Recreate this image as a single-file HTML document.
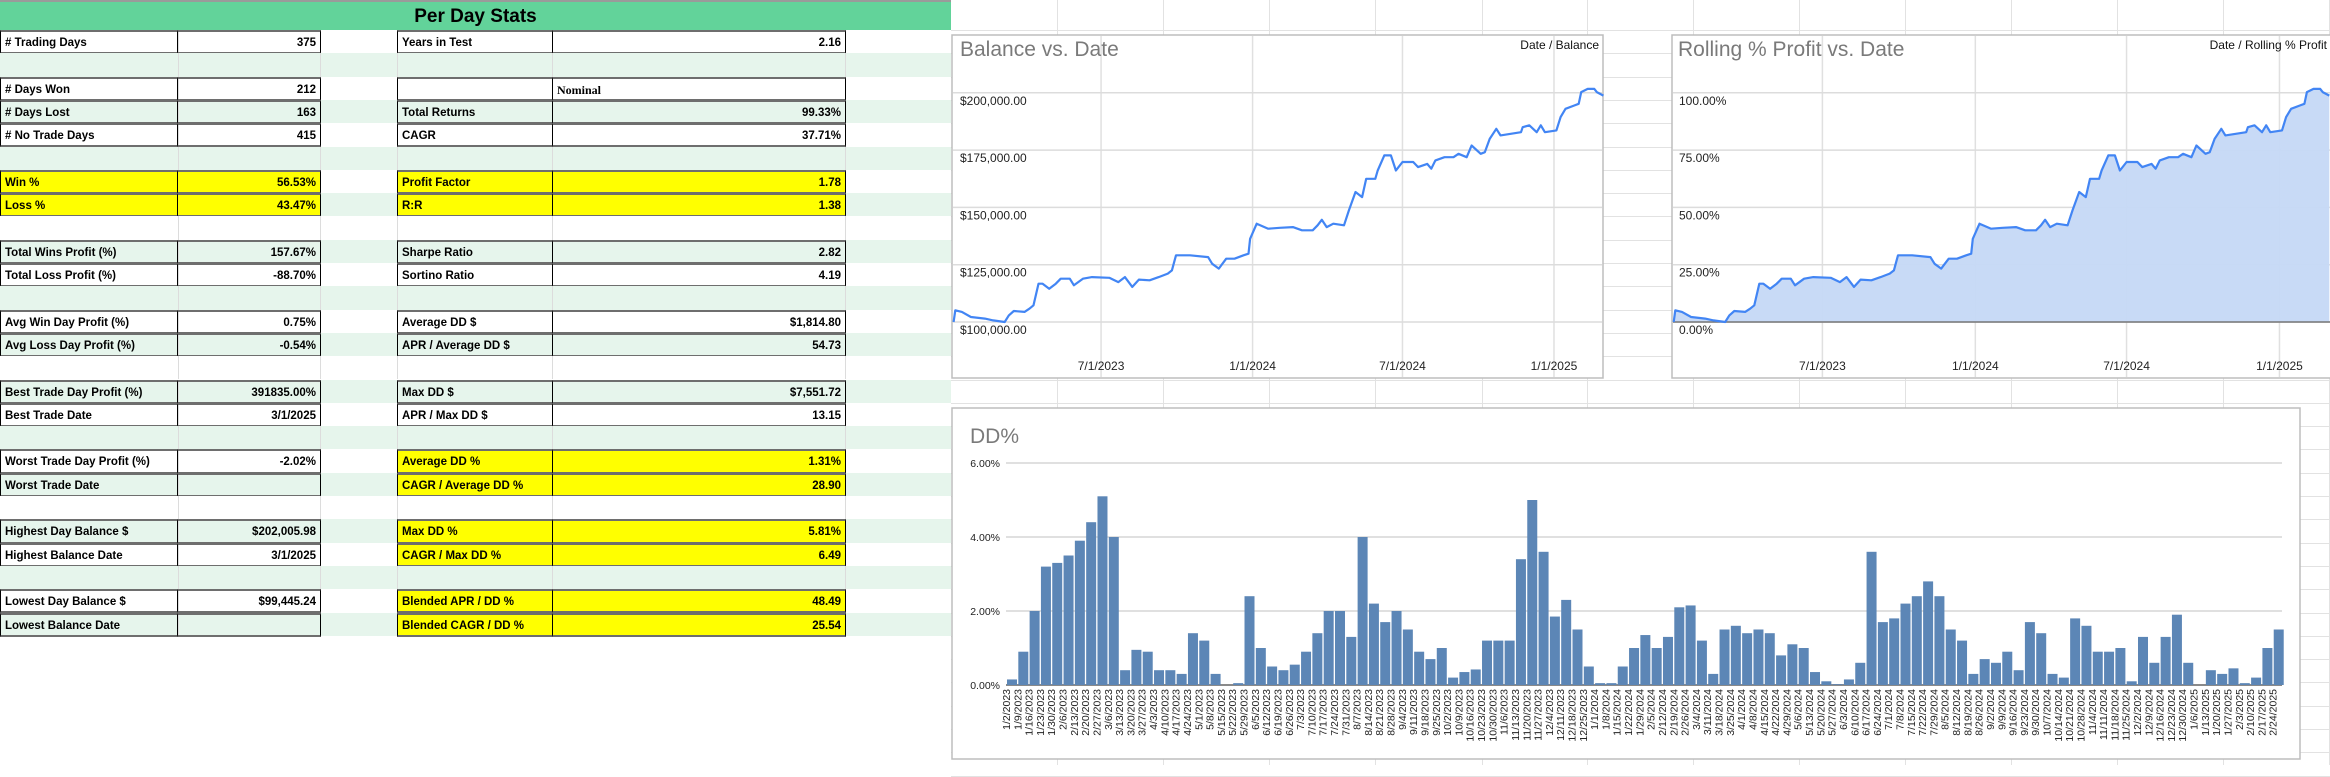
<!DOCTYPE html>
<html><head><meta charset="utf-8">
<style>
html,body{margin:0;padding:0;background:#fff;}
body{width:2330px;height:765px;position:relative;overflow:hidden;font-family:"Liberation Sans",Arial,sans-serif;}
.c{position:absolute;box-sizing:border-box;font-size:11.5px;font-weight:bold;line-height:22px;white-space:nowrap;overflow:hidden;color:#000;}
.r{text-align:right;padding-right:4px;}
.l{padding-left:4px;}
svg text{font-family:"Liberation Sans",Arial,sans-serif;}
</style></head>
<body>
<div id="sheet"></div>
<svg id="charts" width="2330" height="765" style="position:absolute;left:0;top:0"></svg>
<script>
// ---------- table data ----------
const rowsA=['# Trading Days','','# Days Won','# Days Lost','# No Trade Days','','Win %','Loss %','','Total Wins Profit (%)','Total Loss Profit (%)','','Avg Win Day Profit (%)','Avg Loss Day Profit (%)','','Best Trade Day Profit (%)','Best Trade Date','','Worst Trade Day Profit (%)','Worst Trade Date','','Highest Day Balance $','Highest Balance Date','','Lowest Day Balance $','Lowest Balance Date'];
const rowsB=['375','','212','163','415','','56.53%','43.47%','','157.67%','-88.70%','','0.75%','-0.54%','','391835.00%','3/1/2025','','-2.02%','','','$202,005.98','3/1/2025','','$99,445.24',''];
const rowsD=['Years in Test','','','Total Returns','CAGR','','Profit Factor','R:R','','Sharpe Ratio','Sortino Ratio','','Average DD $','APR / Average DD $','','Max DD $','APR / Max DD $','','Average DD %','CAGR / Average DD %','','Max DD %','CAGR / Max DD %','','Blended APR / DD %','Blended CAGR / DD %'];
const rowsE=['2.16','','Nominal','99.33%','37.71%','','1.78','1.38','','2.82','4.19','','$1,814.80','54.73','','$7,551.72','13.15','','1.31%','28.90','','5.81%','6.49','','48.49','25.54'];
const yellowAB=[6,7];
const yellowDE=[6,7,18,19,21,22,24,25];
const blankRows=[1,5,8,11,14,17,20,23];

const sheet=document.getElementById('sheet');
const RH=23.3, TOP=30;
const colX=[0,178,320,397,552,845,951];
function mk(x,y,w,h,bg){const d=document.createElement('div');d.className='c';d.style.left=x+'px';d.style.top=y+'px';d.style.width=w+'px';d.style.height=h+'px';if(bg)d.style.background=bg;sheet.appendChild(d);return d;}
// background grid right side
for(let i=0;i<33;i++){
  const g=document.createElement('div');
  
  
  g.style.cssText='position:absolute;left:951px;width:1379px;height:1px;background:#e2e2e2;top:'+(TOP+i*RH)+'px';
  sheet.appendChild(g);
}
const vcols=[1057,1163,1269,1375,1482,1587,1693,1799,1905,2011,2117,2223,2329];
for(const vx of vcols){
  const g=document.createElement('div');
  
  
  g.style.cssText='position:absolute;top:0;height:765px;width:1px;background:#e2e2e2;left:'+vx+'px';
  sheet.appendChild(g);
}
// header
const hd=mk(0,0,951,30,'#62d39a');


hd.style.cssText+=';font-size:19px;text-align:center;line-height:30px;padding-left:0;border-top:2px solid #9a9a9a;';
hd.textContent='Per Day Stats';
for(let i=0;i<26;i++){
  const y=TOP+i*RH;
  const bg=(i%2)?'#e6f5ec':'#ffffff';
  const band=mk(0,y,951,RH+0.5,bg);
  
  
  for(const cx of colX.slice(1,6)){
    const v=document.createElement('div');
    
    
    v.style.cssText='position:absolute;width:1px;background:#dcdcdc;height:'+RH+'px;top:'+y+'px;left:'+cx+'px';
    sheet.appendChild(v);
  }
  if(blankRows.includes(i)) continue;
  const yab=yellowAB.includes(i), yde=yellowDE.includes(i);
  const border='border:1px solid #000;border-top:2px solid #6e6e6e;border-bottom:2px solid #6e6e6e;';
  const a=mk(0,y,178,RH+1,yab?'#ffff00':null);
  
  
  a.style.cssText+=border;a.className+=' l';a.textContent=rowsA[i];
  const b=mk(177,y,144,RH+1,yab?'#ffff00':null);
  
  
  b.style.cssText+=border;b.className+=' r';b.textContent=rowsB[i];
  const d=mk(397,y,156,RH+1,yde?'#ffff00':null);
  
  
  d.style.cssText+=border;d.className+=' l';d.textContent=rowsD[i];
  const e=mk(552,y,294,RH+1,yde?'#ffff00':null);
  
  
  e.style.cssText+=border;
  if(i===2){e.className+=' l';e.style.fontFamily='"Liberation Serif",serif';e.style.fontSize='12px';}
  else e.className+=' r';
  e.textContent=rowsE[i];
}
</script>
<script>
// ---------- chart data ----------
const balDays=[2,4,12,23,40,50,64,69,75,88,94,99,105,110,118,126,132,143,148,159,170,191,202,210,219,227,240,251,262,267,272,289,311,316,324,333,343,354,360,362,370,384,398,414,425,438,444,449,455,463,476,482,490,498,503,514,517,525,533,539,547,560,566,577,582,587,598,609,615,625,631,642,647,653,661,666,691,693,701,710,715,720,734,739,745,756,761,764,772,780,783,791];
const balValues=[100.0,105.1,104.4,102.2,101.5,100.7,100.0,102.9,104.8,104.4,105.8,107.3,116.7,116.7,114.5,116.7,118.9,118.9,116.0,118.9,119.6,119.3,117.4,119.6,115.3,118.5,118.2,119.6,121.1,122.5,129.1,129.1,128.3,125.4,123.3,127.6,127.6,129.1,129.8,136.3,142.9,140.7,141.1,141.4,140.0,140.0,142.2,144.6,141.4,142.9,142.2,148.7,156.7,154.5,162.5,162.5,166.1,172.7,172.7,166.1,169.8,169.8,167.6,169.0,166.9,170.5,171.9,171.9,173.4,171.9,177.0,173.4,174.1,179.9,184.3,181.4,182.8,185.0,185.8,182.8,185.8,182.8,183.6,189.4,193.0,194.5,195.2,200.3,201.7,201.7,200.3,198.8];
const balTicks=[100,125,150,175,200];
const balTickLabels=['$100,000.00','$125,000.00','$150,000.00','$175,000.00','$200,000.00'];
const pctTicks=[0,25,50,75,100];
const pctTickLabels=['0.00%','25.00%','50.00%','75.00%','100.00%'];
const dateTickDays=[181,365,547,731];
const dateTickLabels=['7/1/2023','1/1/2024','7/1/2024','1/1/2025'];
const ddValues=[0.15,0.9,2.0,3.2,3.3,3.5,3.9,4.4,5.1,4.0,0.4,0.95,0.9,0.4,0.4,0.3,1.4,1.2,0.3,0,0.05,2.4,1.0,0.5,0.4,0.55,0.9,1.4,2.0,2.0,1.3,4.0,2.2,1.7,2.0,1.5,0.9,0.7,1.0,0.2,0.35,0.42,1.2,1.2,1.2,3.4,5.0,3.6,1.85,2.3,1.5,0.5,0.05,0.05,0.5,1.0,1.35,1.0,1.3,2.1,2.15,1.2,0.3,1.5,1.6,1.4,1.5,1.4,0.8,1.1,1.0,0.35,0.1,0.02,0.15,0.6,3.6,1.7,1.8,2.2,2.4,2.8,2.4,1.5,1.2,0.3,0.7,0.6,0.9,0.4,1.7,1.4,0.3,0.2,1.8,1.6,0.9,0.9,1.0,0.1,1.3,0.6,1.3,1.9,0.6,0,0.4,0.3,0.45,0.05,0.2,1.0,1.5];
const ddTicks=[0,2,4,6];
const ddTickLabels=['0.00%','2.00%','4.00%','6.00%'];
const ddStart='2023-01-02';

const NS='http://www.w3.org/2000/svg';
const svg=document.getElementById('charts');
function el(tag,attrs,parent){const e=document.createElementNS(NS,tag);for(const k in attrs)e.setAttribute(k,attrs[k]);(parent||svg).appendChild(e);return e;}

// ---- Balance chart ----
const balG=el('g',{});


el('rect',{x:952,y:35,width:651,height:343,fill:'#fff',stroke:'#bdbdbd','stroke-width':1.5},balG);
const bx=d=>952+d*0.8235, by=v=>322-(v-100)/25*57.3;
for(let i=0;i<dateTickDays.length;i++){
  const gl=el('line',{x1:bx(dateTickDays[i]),x2:bx(dateTickDays[i]),y1:36,y2:377,stroke:'#e0e0e0','stroke-width':1.5},balG);
  
  
  const t=el('text',{x:bx(dateTickDays[i]),y:370,'text-anchor':'middle','font-size':12,fill:'#222'},balG);
  
  
  t.textContent=dateTickLabels[i];
}
for(let i=0;i<balTicks.length;i++){
  const gl=el('line',{x1:953,x2:1602,y1:by(balTicks[i]),y2:by(balTicks[i]),stroke:'#dcdcdc','stroke-width':1.5},balG);
  
  
  const t=el('text',{x:960,y:by(balTicks[i])+12,'font-size':12,fill:'#222'},balG);
  
  
  t.textContent=balTickLabels[i];
}
const bt=el('text',{x:960,y:56,'font-size':21,fill:'#7a7a7a'},balG);


bt.textContent='Balance vs. Date';
const bl=el('text',{x:1599,y:49,'font-size':12,'text-anchor':'end',fill:'#111'},balG);


bl.textContent='Date / Balance';
let bpts=balDays.map((d,i)=>bx(d).toFixed(1)+','+by(balValues[i]).toFixed(1)).join(' ');
const bline=el('polyline',{points:bpts,fill:'none',stroke:'#4285f4','stroke-width':2.2,'stroke-linejoin':'round'},balG);



// ---- Rolling % chart ----
const rG=el('g',{});


el('rect',{x:1672,y:35,width:700,height:343,fill:'#fff',stroke:'#bdbdbd','stroke-width':1.5},rG);
const rx=d=>1672+d*0.831, ry=p=>322-p/25*57.3;
const pctValues=balValues.map(v=>v-100);
for(let i=0;i<dateTickDays.length;i++){
  const gl=el('line',{x1:rx(dateTickDays[i]),x2:rx(dateTickDays[i]),y1:36,y2:377,stroke:'#e0e0e0','stroke-width':1.5},rG);
  
  
  const t=el('text',{x:rx(dateTickDays[i]),y:370,'text-anchor':'middle','font-size':12,fill:'#222'},rG);
  
  
  t.textContent=dateTickLabels[i];
}
for(let i=0;i<pctTicks.length;i++){
  const gl=el('line',{x1:1673,x2:2330,y1:ry(pctTicks[i]),y2:ry(pctTicks[i]),stroke:'#dcdcdc','stroke-width':1.5},rG);
  
  
}
let rp=balDays.map((d,i)=>rx(d).toFixed(1)+','+ry(pctValues[i]).toFixed(1));
const area=el('polygon',{points:rx(balDays[0])+','+ry(0)+' '+rp.join(' ')+' '+rx(balDays[balDays.length-1])+','+ry(0),fill:'#c5d8f6','fill-opacity':0.95},rG);


el('line',{x1:1673,x2:2330,y1:ry(0),y2:ry(0),stroke:'#777','stroke-width':1.5},rG);
for(let i=0;i<pctTicks.length;i++){
  const t=el('text',{x:1679,y:ry(pctTicks[i])+12,'font-size':12,fill:'#222'},rG);
  
  
  t.textContent=pctTickLabels[i];
}
const rline=el('polyline',{points:rp.join(' '),fill:'none',stroke:'#4285f4','stroke-width':2.2,'stroke-linejoin':'round'},rG);


const rt=el('text',{x:1678,y:56,'font-size':21,fill:'#7a7a7a'},rG);


rt.textContent='Rolling % Profit vs. Date';
const rl=el('text',{x:2327,y:49,'font-size':12,'text-anchor':'end',fill:'#111'},rG);


rl.textContent='Date / Rolling % Profit';

// ---- DD% chart ----
const dG=el('g',{});


el('rect',{x:952,y:408,width:1348,height:351,fill:'#fff',stroke:'#bdbdbd','stroke-width':1.5},dG);
const dx=k=>1006+k*11.31, dy=v=>685-v*37;
for(let i=0;i<ddTicks.length;i++){
  const gl=el('line',{x1:1006,x2:2282,y1:dy(ddTicks[i]),y2:dy(ddTicks[i]),stroke:ddTicks[i]===0?'#8a8a8a':'#d6d6d6','stroke-width':ddTicks[i]===0?2:1.5},dG);
  
  
  const t=el('text',{x:1000,y:dy(ddTicks[i])+4,'font-size':10.5,'text-anchor':'end',fill:'#222'},dG);
  
  
  t.textContent=ddTickLabels[i];
}
for(let k=0;k<ddValues.length;k++){
  const h=ddValues[k]*37;
  const r=el('rect',{x:dx(k)+1,y:dy(ddValues[k]),width:10,height:Math.max(h,0),fill:'#5c86b6'},dG);
  
  
}
const startD=new Date(ddStart+'T00:00:00Z');
for(let k=0;k<ddValues.length;k++){
  const dt=new Date(startD.getTime()+k*7*86400000);
  const lab=(dt.getUTCMonth()+1)+'/'+dt.getUTCDate()+'/'+dt.getUTCFullYear();
  const t=el('text',{x:0,y:0,'font-size':10.5,'text-anchor':'end',fill:'#222',transform:'translate('+(dx(k)+4)+',689) rotate(-90)'},dG);
  
  
  t.textContent=lab;
}
const dt=el('text',{x:970,y:443,'font-size':21,fill:'#7a7a7a'},dG);


dt.textContent='DD%';
</script>
</body></html>
